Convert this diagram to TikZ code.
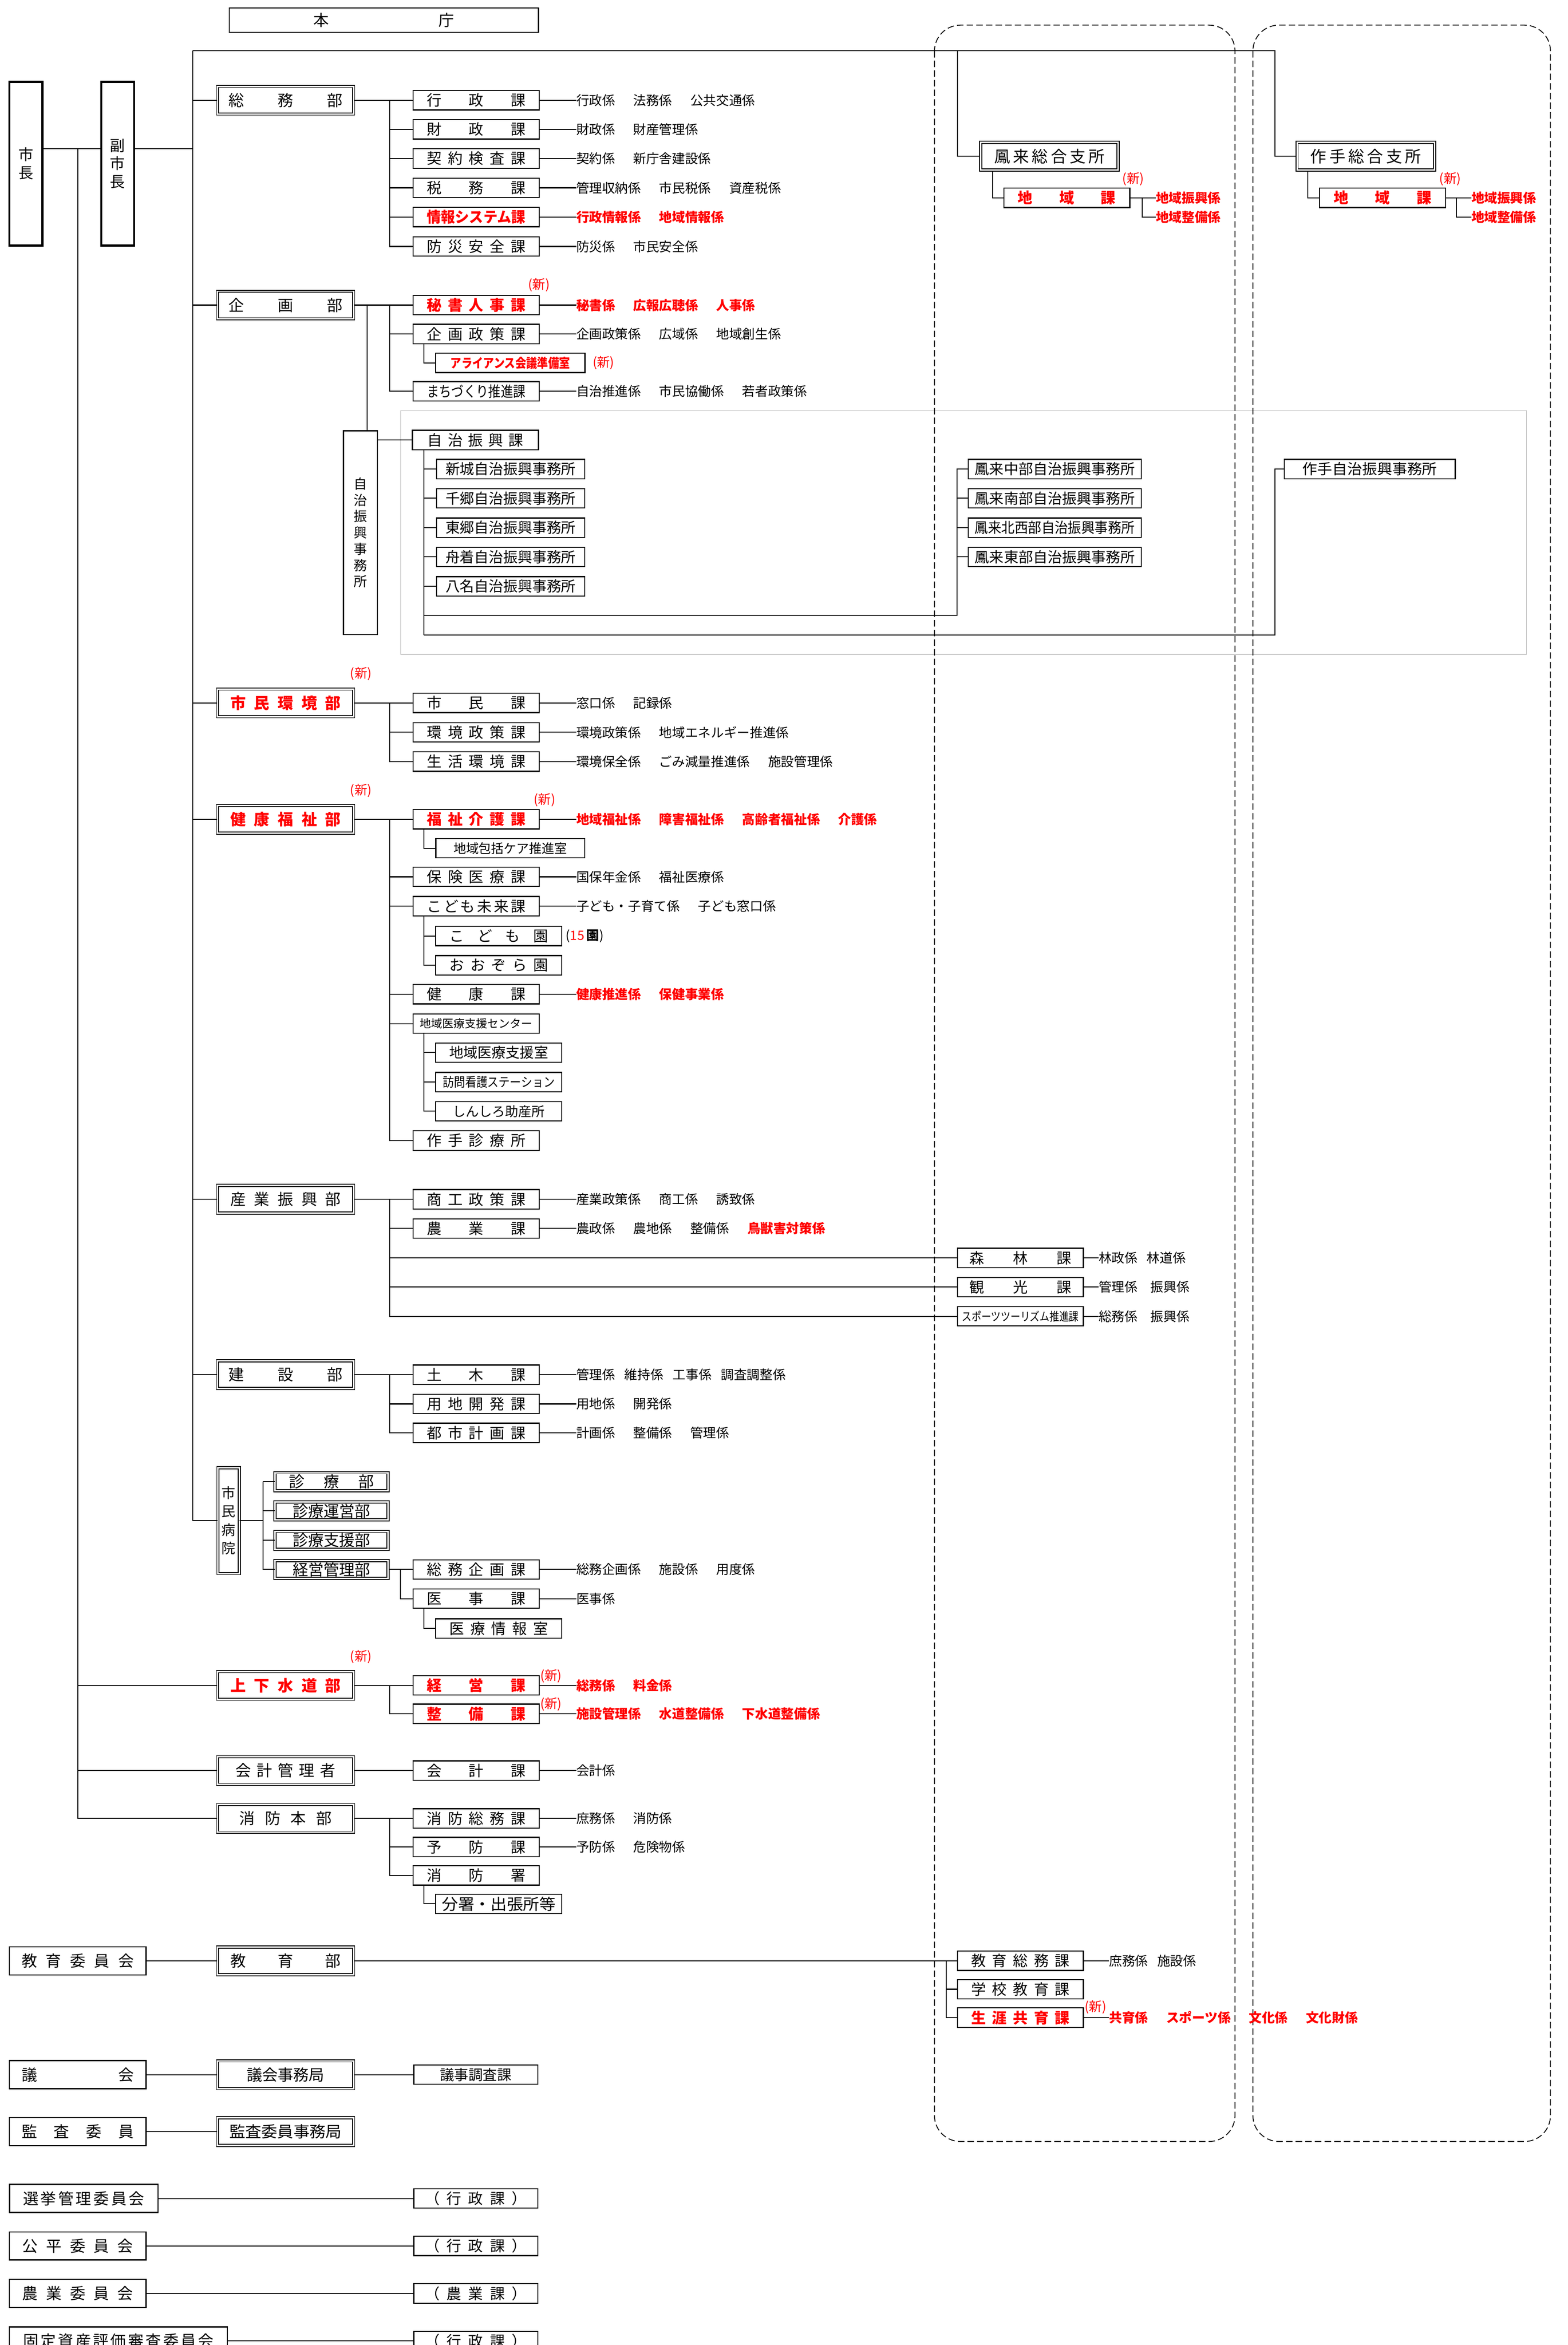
\documentclass[tikz,border=0pt]{standalone}
\usepackage{fontspec}
\setmainfont{Noto Sans CJK JP}
\usepackage{graphicx}

\newdimen\dpx \dpx=0.04904cm
\newcommand\bufont{\fontsize{14.5}{17}\selectfont}
\newcommand\kafont{\fontsize{13.8}{16}\selectfont}
\newcommand\kkfont{\fontsize{12.1}{14}\selectfont}
\newcommand\shinfont{\fontsize{12}{14}\selectfont}
\newcommand\chieffont{\fontsize{14}{17}\selectfont}
\newcommand\tatefont{\fontsize{12.5}{15.2}\selectfont}
\newcommand\hospfont{\fontsize{13}{17.2}\selectfont}
\newcommand\kg{\hspace{1.4em}}
\newcommand\kgm{\hspace{1em}}
\newcommand\kgs{\hspace{.72em}}
% spread the characters of #2 over #1 px
\newcommand\sprd[2]{\makebox[#1\dpx][s]{\sprdA#2\relax}}
\def\sprdA#1{#1\futurelet\sprdN\sprdB}
\def\sprdB{\ifx\sprdN\relax\else\hfill\expandafter\sprdA\fi}
% squeeze #2 to #1 px
\newcommand\cz[2]{\resizebox{#1\dpx}{\height}{#2}}

\tikzset{
    every node/.style={inner sep=0pt},
    conn/.style={draw, line width=.9pt},
    chief/.style={
        draw,
        line width=2pt,
        minimum width=22\dpx,
        minimum height=109.5\dpx,
        align=center,
        font=\chieffont
    },
    bu/.style={
        draw,
        double,
        line width=.8pt,
        double distance=1.3pt,
        minimum width=91\dpx,
        minimum height=18.5\dpx,
        font=\bufont
    },
    ka/.style={
        draw,
        line width=1pt,
        minimum width=84.3\dpx,
        minimum height=13\dpx,
        font=\kafont
    },
    iinkai/.style={
        draw,
        line width=1pt,
        minimum width=91.3\dpx,
        minimum height=18.8\dpx,
        font=\bufont
    },
    kakari/.style={anchor=west, font=\kkfont},
    shin/.style={text=red, font=\shinfont},
    redtxt/.style={text=red, execute at begin node=\bfseries},
    shisho/.style={
        draw,
        dash pattern=on 6pt off 3pt,
        line width=.8pt,
        rounded corners=.85cm
    },
}

\begin{document}
\begin{tikzpicture}[x=0.04904cm, y=-0.04904cm]
\useasboundingbox (0,0) rectangle (1048.7,1568.1);
\clip (0,0) rectangle (1048.7,1568.1);

% frames
\draw[gray!55, line width=.5pt] (268,274.7) rectangle (1021,437.5);
\path[shisho] (625,16.8) rectangle (826,1432);
\path[shisho] (838,16.8) rectangle (1037,1432);

% columns
\coordinate (kx) at (260.6,0);
\coordinate (sx) at (283.6,0);
\coordinate (hx) at (640,0);
\coordinate (tx) at (852.8,0);

% head
\node[ka, minimum width=206.8\dpx, minimum height=16.3\dpx, font=\bufont] (honcho) at (256.8,13.5) {\sprd{94}{本庁}};
\node[chief] (mayor) at (17.3,109.5) {市\\長};
\node[chief] (vice) at (78.7,109.5) {副\\市\\長};
\coordinate (c1) at (52,99.5);
\coordinate (c2) at (129,99.5);
\coordinate (t0) at (129,34);
\coordinate (t1) at (640.5,34);
\coordinate (t2) at (852.8,34);

% departments
\node[bu] (somubu) at (191,67) {\sprd{76}{総務部}};
\node[bu] (kikakubu) at (191,204) {\sprd{76}{企画部}};
\node[bu, redtxt] (shiminbu) at (191,470) {\sprd{74}{市民環境部}};
\node[bu, redtxt] (kenkobu) at (191,547.8) {\sprd{74}{健康福祉部}};
\node[bu] (sangyobu) at (191,802) {\sprd{74}{産業振興部}};
\node[bu] (kensetsubu) at (191,919.3) {\sprd{76}{建設部}};
\node[bu, redtxt] (suidobu) at (191,1127) {\sprd{74}{上下水道部}};
\node[bu] (kaikeibu) at (191,1184) {\sprd{67}{会計管理者}};
\node[bu] (shobobu) at (191,1216) {\sprd{62}{消防本部}};
\node[bu] (kyoikubu) at (191,1311.2) {\sprd{74}{教育部}};
\node[bu] (gikaibu) at (191,1387.3) {議会事務局};
\node[bu] (kansabu) at (191,1425.3) {\cz{75}{監査委員事務局}};
\node[shin] at (241.4,450.6) {(新)};
\node[shin] at (241.4,528.6) {(新)};
\node[shin] at (241.4,1108) {(新)};

% branch offices
\node[bu, minimum width=92\dpx, font=\fontsize{15}{18}\selectfont] (hourai) at (701.9,104.5) {\sprd{74}{鳳来総合支所}};
\node[bu, minimum width=92\dpx, font=\fontsize{15}{18}\selectfont] (sakute) at (913.5,104.5) {\sprd{74}{作手総合支所}};
\node[ka, redtxt] (hchiiki) at (713.5,132.3) {\sprd{65.5}{地域課}};
\node[ka, redtxt] (schiiki) at (924.7,132.3) {\sprd{65.5}{地域課}};
\node[shin] at (758,119.6) {(新)};
\node[shin] at (970,119.6) {(新)};
\node[kakari, redtxt] (hk1) at (773,132.3) {地域振興係};
\node[kakari, redtxt] (hk2) at (773,145.3) {地域整備係};
\node[kakari, redtxt] (sk1) at (984,132.3) {地域振興係};
\node[kakari, redtxt] (sk2) at (984,145.3) {地域整備係};

% mayor lines
\path[conn] (mayor.east |- c1) -- (vice.west |- c1);
\path[conn] (vice.east |- c2) -- (c2);
\path[conn] (c1) |- (shobobu.west);
\path[conn] (c1 |- suidobu.west) -- (suidobu.west);
\path[conn] (c1 |- kaikeibu.west) -- (kaikeibu.west);
\path[conn] (t0) -- (t2) |- (sakute.west);
\path[conn] (t1) |- (hourai.west);
\path[conn] (t0 |- somubu.west) -- (somubu.west);
\path[conn] (t0 |- kikakubu.west) -- (kikakubu.west);
\path[conn] (t0 |- shiminbu.west) -- (shiminbu.west);
\path[conn] (t0 |- kenkobu.west) -- (kenkobu.west);
\path[conn] (t0 |- sangyobu.west) -- (sangyobu.west);
\path[conn] (t0 |- kensetsubu.west) -- (kensetsubu.west);
\path[conn] ([xshift=8.4\dpx]hourai.south west) |- (hchiiki.west);
\path[conn] ([xshift=7.6\dpx]sakute.south west) |- (schiiki.west);
\path[conn] (hchiiki.east) -- (hk1.west);
\path[conn] ([xshift=8\dpx]hchiiki.east) |- (hk2.west);
\path[conn] (schiiki.east) -- (sk1.west);
\path[conn] ([xshift=7\dpx]schiiki.east) |- (sk2.west);

% 総務部
\node[ka] (gyosei) at (318.5,67) {\sprd{66}{行政課}};
\node[ka] (zaisei) at (318.5,86.5) {\sprd{66}{財政課}};
\node[ka] (keiyaku) at (318.5,106) {\sprd{66}{契約検査課}};
\node[ka] (zeimu) at (318.5,125.6) {\sprd{66}{税務課}};
\node[ka, redtxt] (joho) at (318.5,145.1) {\cz{66}{情報システム課}};
\node[ka] (bosai) at (318.5,164.8) {\sprd{66}{防災安全課}};
\node[kakari] (gyoseik) at (385.3,67) {行政係\kg 法務係\kg 公共交通係};
\node[kakari] (zaiseik) at (385.3,86.5) {財政係\kg 財産管理係};
\node[kakari] (keiyakuk) at (385.3,106) {契約係\kg 新庁舎建設係};
\node[kakari] (zeimuk) at (385.3,125.6) {管理収納係\kg 市民税係\kg 資産税係};
\node[kakari, redtxt] (johok) at (385.3,145.1) {行政情報係\kg 地域情報係};
\node[kakari] (bosaik) at (385.3,164.8) {防災係\kg 市民安全係};
\path[conn] (somubu.east) -- (gyosei.west);
\path[conn] (kx |- gyosei.west) |- (bosai.west);
\path[conn] (kx |- zaisei.west) -- (zaisei.west);
\path[conn] (kx |- keiyaku.west) -- (keiyaku.west);
\path[conn] (kx |- zeimu.west) -- (zeimu.west);
\path[conn] (kx |- joho.west) -- (joho.west);
\path[conn] (gyosei.east) -- (gyoseik.west);
\path[conn] (zaisei.east) -- (zaiseik.west);
\path[conn] (keiyaku.east) -- (keiyakuk.west);
\path[conn] (zeimu.east) -- (zeimuk.west);
\path[conn] (joho.east) -- (johok.west);
\path[conn] (bosai.east) -- (bosaik.west);

% 企画部
\node[ka, redtxt] (hisho) at (318.5,204) {\sprd{66}{秘書人事課}};
\node[ka] (kikaku) at (318.5,223.4) {\sprd{66}{企画政策課}};
\node[ka, redtxt, minimum width=99.8\dpx, font=\fontsize{12}{14}\selectfont] (alliance) at (341.3,242.7) {\cz{80}{アライアンス会議準備室}};
\node[ka] (machi) at (318.5,261.6) {\cz{66}{まちづくり推進課}};
\node[shin] at (360.5,190.6) {(新)};
\node[shin] at (403.7,242.7) {(新)};
\node[kakari, redtxt] (hishok) at (385.3,204) {秘書係\kg 広報広聴係\kg 人事係};
\node[kakari] (kikakuk) at (385.3,223.4) {企画政策係\kg 広域係\kg 地域創生係};
\node[kakari] (machik) at (385.3,261.6) {自治推進係\kg 市民協働係\kg 若者政策係};
\path[conn] (kikakubu.east) -- (hisho.west);
\path[conn] (kx |- hisho.west) |- (machi.west);
\path[conn] (kx |- kikaku.west) -- (kikaku.west);
\path[conn] (kikaku.south -| sx) |- (alliance.west);
\path[conn] (hisho.east) -- (hishok.west);
\path[conn] (kikaku.east) -- (kikakuk.west);
\path[conn] (machi.east) -- (machik.west);

% 自治振興
\node[draw, line width=1pt, minimum width=22.7\dpx, minimum height=136.3\dpx, align=center, font=\tatefont] (jimusho) at (241.1,356.2) {自\\治\\振\\興\\事\\務\\所};
\node[ka] (jichi) at (318,294.2) {\sprd{64}{自治振興課}};
\node[ka, minimum width=99\dpx, font=\fontsize{13.5}{16}\selectfont] (shinshiro) at (341.5,313.7) {新城自治振興事務所};
\node[ka, minimum width=99\dpx, font=\fontsize{13.5}{16}\selectfont] (chisato) at (341.5,333.2) {千郷自治振興事務所};
\node[ka, minimum width=99\dpx, font=\fontsize{13.5}{16}\selectfont] (togo) at (341.5,352.9) {東郷自治振興事務所};
\node[ka, minimum width=99\dpx, font=\fontsize{13.5}{16}\selectfont] (funatsuke) at (341.5,372.4) {舟着自治振興事務所};
\node[ka, minimum width=99\dpx, font=\fontsize{13.5}{16}\selectfont] (yana) at (341.5,392.1) {八名自治振興事務所};
\node[ka, minimum width=115.6\dpx, font=\fontsize{13.5}{16}\selectfont] (hchubu) at (705.5,313.7) {\cz{107}{鳳来中部自治振興事務所}};
\node[ka, minimum width=115.6\dpx, font=\fontsize{13.5}{16}\selectfont] (hnanbu) at (705.5,333.2) {\cz{107}{鳳来南部自治振興事務所}};
\node[ka, minimum width=115.6\dpx, font=\fontsize{13.5}{16}\selectfont] (hhokusei) at (705.5,352.9) {\cz{107}{鳳来北西部自治振興事務所}};
\node[ka, minimum width=115.6\dpx, font=\fontsize{13.5}{16}\selectfont] (htobu) at (705.5,372.4) {\cz{107}{鳳来東部自治振興事務所}};
\node[ka, minimum width=114.3\dpx, font=\fontsize{13.5}{16}\selectfont] (sjichi) at (916.2,313.7) {\cz{90}{作手自治振興事務所}};
\coordinate (jx) at (245.5,204);
\coordinate (j1) at (283.6,411.4);
\coordinate (j2) at (283.6,424.5);
\path[conn] (jx) -- (jx |- jimusho.north);
\path[conn] (jimusho.east |- jichi.west) -- (jichi.west);
\path[conn] (jichi.south -| sx) -- (j2);
\path[conn] (sx |- shinshiro.west) -- (shinshiro.west);
\path[conn] (sx |- chisato.west) -- (chisato.west);
\path[conn] (sx |- togo.west) -- (togo.west);
\path[conn] (sx |- funatsuke.west) -- (funatsuke.west);
\path[conn] (sx |- yana.west) -- (yana.west);
\path[conn] (j1) -| (hx |- hchubu.west) -- (hchubu.west);
\path[conn] (hx |- hnanbu.west) -- (hnanbu.west);
\path[conn] (hx |- hhokusei.west) -- (hhokusei.west);
\path[conn] (hx |- htobu.west) -- (htobu.west);
\path[conn] (j2) -| (tx |- sjichi.west) -- (sjichi.west);

% 市民環境部
\node[ka] (shimin) at (318.5,470) {\sprd{66}{市民課}};
\node[ka] (kankyo) at (318.5,489.7) {\sprd{66}{環境政策課}};
\node[ka] (seikatsu) at (318.5,509.2) {\sprd{66}{生活環境課}};
\node[kakari] (shimink) at (385.3,470) {窓口係\kg 記録係};
\node[kakari] (kankyok) at (385.3,489.7) {環境政策係\kg 地域エネルギー推進係};
\node[kakari] (seikatsuk) at (385.3,509.2) {環境保全係\kg ごみ減量推進係\kg 施設管理係};
\path[conn] (shiminbu.east) -- (shimin.west);
\path[conn] (kx |- shimin.west) |- (seikatsu.west);
\path[conn] (kx |- kankyo.west) -- (kankyo.west);
\path[conn] (shimin.east) -- (shimink.west);
\path[conn] (kankyo.east) -- (kankyok.west);
\path[conn] (seikatsu.east) -- (seikatsuk.west);

% 健康福祉部
\node[ka, redtxt] (fukushi) at (318.5,547.8) {\sprd{66}{福祉介護課}};
\node[ka, minimum width=99.6\dpx, font=\fontsize{12}{14}\selectfont] (houkatsu) at (341.3,567.2) {\cz{76}{地域包括ケア推進室}};
\node[ka] (hoken) at (318.5,586.3) {\sprd{66}{保険医療課}};
\node[ka] (kodomo) at (318.5,606) {\sprd{66}{こども未来課}};
\node[ka] (kodomoen) at (333.6,625.9) {\sprd{66}{こども園}};
\node[ka] (oozora) at (333.6,645.5) {\sprd{66}{おおぞら園}};
\node[ka] (kenko) at (318.5,664.8) {\sprd{66}{健康課}};
\node[ka, font=\fontsize{10.5}{12}\selectfont] (iryoc) at (318.5,684.5) {地域医療支援センター};
\node[ka, font=\fontsize{13.2}{16}\selectfont] (iryoshitsu) at (333.6,703.9) {地域医療支援室};
\node[ka, font=\fontsize{12}{14}\selectfont] (houmon) at (333.6,723.6) {\cz{75}{訪問看護ステーション}};
\node[ka, font=\fontsize{12.3}{14}\selectfont] (josan) at (333.6,743.1) {しんしろ助産所};
\node[ka] (tsukude) at (318.5,762.7) {\sprd{66}{作手診療所}};
\node[shin] at (364.3,535) {(新)};
\node[anchor=west, font=\shinfont] (enkazu) at (378.3,625.9) {(\textcolor{red}{15}\,\textbf{園})};
\node[kakari, redtxt] (fukushik) at (385.3,547.8) {地域福祉係\kg 障害福祉係\kg 高齢者福祉係\kg 介護係};
\node[kakari] (hokenk) at (385.3,586.3) {国保年金係\kg 福祉医療係};
\node[kakari] (kodomok) at (385.3,606) {子ども・子育て係\kg 子ども窓口係};
\node[kakari, redtxt] (kenkok) at (385.3,664.8) {健康推進係\kg 保健事業係};
\path[conn] (kenkobu.east) -- (fukushi.west);
\path[conn] (kx |- fukushi.west) |- (tsukude.west);
\path[conn] (kx |- hoken.west) -- (hoken.west);
\path[conn] (kx |- kodomo.west) -- (kodomo.west);
\path[conn] (kx |- kenko.west) -- (kenko.west);
\path[conn] (kx |- iryoc.west) -- (iryoc.west);
\path[conn] (fukushi.south -| sx) |- (houkatsu.west);
\path[conn] (kodomo.south -| sx) |- (oozora.west);
\path[conn] (sx |- kodomoen.west) -- (kodomoen.west);
\path[conn] (iryoc.south -| sx) |- (josan.west);
\path[conn] (sx |- iryoshitsu.west) -- (iryoshitsu.west);
\path[conn] (sx |- houmon.west) -- (houmon.west);
\path[conn] (fukushi.east) -- (fukushik.west);
\path[conn] (hoken.east) -- (hokenk.west);
\path[conn] (kodomo.east) -- (kodomok.west);
\path[conn] (kenko.east) -- (kenkok.west);

% 産業振興部
\node[ka] (shoko) at (318.5,802) {\sprd{66}{商工政策課}};
\node[ka] (nogyo) at (318.5,821.5) {\sprd{66}{農業課}};
\node[ka] (shinrin) at (682.5,841.2) {\sprd{68}{森林課}};
\node[ka] (kanko) at (682.5,860.7) {\sprd{68}{観光課}};
\node[ka, font=\fontsize{11}{13}\selectfont] (sports) at (682.5,880.2) {\cz{78}{スポーツツーリズム推進課}};
\node[kakari] (shokok) at (385.3,802) {産業政策係\kg 商工係\kg 誘致係};
\node[kakari] (nogyok) at (385.3,821.5) {農政係\kg 農地係\kg 整備係\kg \textcolor{red}{\bfseries 鳥獣害対策係}};
\node[kakari] (shinrink) at (734.7,841.2) {林政係\kgs 林道係};
\node[kakari] (kankok) at (734.7,860.7) {管理係\kgm 振興係};
\node[kakari] (sportsk) at (734.7,880.2) {総務係\kgm 振興係};
\path[conn] (sangyobu.east) -- (shoko.west);
\path[conn] (kx |- shoko.west) |- (sports.west);
\path[conn] (kx |- nogyo.west) -- (nogyo.west);
\path[conn] (kx |- shinrin.west) -- (shinrin.west);
\path[conn] (kx |- kanko.west) -- (kanko.west);
\path[conn] (shoko.east) -- (shokok.west);
\path[conn] (nogyo.east) -- (nogyok.west);
\path[conn] (shinrin.east) -- (shinrink.west);
\path[conn] (kanko.east) -- (kankok.west);
\path[conn] (sports.east) -- (sportsk.west);

% 建設部
\node[ka] (doboku) at (318.5,919.3) {\sprd{66}{土木課}};
\node[ka] (yochi) at (318.5,938.8) {\sprd{66}{用地開発課}};
\node[ka] (toshi) at (318.5,958.2) {\sprd{66}{都市計画課}};
\node[kakari] (dobokuk) at (385.3,919.3) {管理係\kgs 維持係\kgs 工事係\kgs 調査調整係};
\node[kakari] (yochik) at (385.3,938.8) {用地係\kg 開発係};
\node[kakari] (toshik) at (385.3,958.2) {計画係\kg 整備係\kg 管理係};
\path[conn] (kensetsubu.east) -- (doboku.west);
\path[conn] (kx |- doboku.west) |- (toshi.west);
\path[conn] (kx |- yochi.west) -- (yochi.west);
\path[conn] (doboku.east) -- (dobokuk.west);
\path[conn] (yochi.east) -- (yochik.west);
\path[conn] (toshi.east) -- (toshik.west);

% 市民病院
\node[bu, minimum width=14.3\dpx, minimum height=70.8\dpx, align=center, font=\hospfont] (hosp) at (152.95,1016.8) {市\\民\\病\\院};
\node[bu, minimum width=75.6\dpx, minimum height=12\dpx] (shinryo) at (221.8,990.8) {\sprd{57}{診療部}};
\node[bu, minimum width=75.6\dpx, minimum height=12\dpx] (unei) at (221.8,1010.3) {診療運営部};
\node[bu, minimum width=75.6\dpx, minimum height=12\dpx] (shien) at (221.8,1030) {診療支援部};
\node[bu, minimum width=75.6\dpx, minimum height=12\dpx] (keieibu) at (221.8,1049.5) {経営管理部};
\node[ka] (sokikaku) at (318.5,1049.5) {\sprd{66}{総務企画課}};
\node[ka] (iji) at (318.5,1069) {\sprd{66}{医事課}};
\node[ka] (iryojoho) at (333.6,1088.9) {\sprd{66}{医療情報室}};
\node[kakari] (sokikakuk) at (385.3,1049.5) {総務企画係\kg 施設係\kg 用度係};
\node[kakari] (ijik) at (385.3,1069) {医事係};
\coordinate (bx) at (175.9,0);
\coordinate (ex) at (267.7,0);
\path[conn] (t0) |- (hosp.west);
\path[conn] (hosp.east) -- (bx |- hosp.east);
\path[conn] (bx |- shinryo.west) |- (keieibu.west);
\path[conn] (bx |- shinryo.west) -- (shinryo.west);
\path[conn] (bx |- unei.west) -- (unei.west);
\path[conn] (bx |- shien.west) -- (shien.west);
\path[conn] (keieibu.east) -- (sokikaku.west);
\path[conn] (ex |- sokikaku.west) |- (iji.west);
\path[conn] (iji.south -| sx) |- (iryojoho.west);
\path[conn] (sokikaku.east) -- (sokikakuk.west);
\path[conn] (iji.east) -- (ijik.west);

% 上下水道部
\node[ka, redtxt] (keiei) at (318.5,1127) {\sprd{66}{経営課}};
\node[ka, redtxt] (seibi) at (318.5,1146) {\sprd{66}{整備課}};
\node[shin] at (368.5,1120.8) {(新)};
\node[shin] at (368.5,1139.5) {(新)};
\node[kakari, redtxt] (keieik) at (385.3,1127) {総務係\kg 料金係};
\node[kakari, redtxt] (seibik) at (385.3,1146) {施設管理係\kg 水道整備係\kg 下水道整備係};
\path[conn] (suidobu.east) -- (keiei.west);
\path[conn] (kx |- keiei.west) |- (seibi.west);
\path[conn] (keiei.east) -- (keieik.west);
\path[conn] (seibi.east) -- (seibik.west);

% 会計管理者
\node[ka] (kaikei) at (318.5,1184) {\sprd{66}{会計課}};
\node[kakari] (kaikeik) at (385.3,1184) {会計係};
\path[conn] (kaikeibu.east) -- (kaikei.west);
\path[conn] (kaikei.east) -- (kaikeik.west);

% 消防本部
\node[ka] (shomu) at (318.5,1216) {\sprd{66}{消防総務課}};
\node[ka] (yobo) at (318.5,1235.1) {\sprd{66}{予防課}};
\node[ka] (shobosho) at (318.5,1254.1) {\sprd{66}{消防署}};
\node[ka, font=\fontsize{14.5}{17}\selectfont] (bunsho) at (333.6,1273.1) {\cz{76}{分署・出張所等}};
\node[kakari] (shomuk) at (385.3,1216) {庶務係\kg 消防係};
\node[kakari] (yobok) at (385.3,1235.1) {予防係\kg 危険物係};
\path[conn] (shobobu.east) -- (shomu.west);
\path[conn] (kx |- shomu.west) |- (shobosho.west);
\path[conn] (kx |- yobo.west) -- (yobo.west);
\path[conn] (shobosho.south -| sx) |- (bunsho.west);
\path[conn] (shomu.east) -- (shomuk.west);
\path[conn] (yobo.east) -- (yobok.west);

% 教育
\node[iinkai] (kyoikui) at (52,1311.2) {\sprd{75}{教育委員会}};
\node[ka] (kyosomu) at (682.5,1311.2) {\sprd{66}{教育総務課}};
\node[ka] (gakko) at (682.5,1330.2) {\sprd{66}{学校教育課}};
\node[ka, redtxt] (shogai) at (682.5,1349.2) {\sprd{66}{生涯共育課}};
\node[shin] at (732.8,1342.2) {(新)};
\node[kakari] (kyosomuk) at (741.7,1311.2) {庶務係\kgs 施設係};
\node[kakari, redtxt] (shogaik) at (741.7,1349.2) {共育係\kg スポーツ係\kg 文化係\kg 文化財係};
\coordinate (kx2) at (633,0);
\path[conn] (kyoikui.east) -- (kyoikubu.west);
\path[conn] (kyoikubu.east) -- (kyosomu.west);
\path[conn] (kx2 |- kyosomu.west) |- (shogai.west);
\path[conn] (kx2 |- gakko.west) -- (gakko.west);
\path[conn] (kyosomu.east) -- (kyosomuk.west);
\path[conn] (shogai.east) -- (shogaik.west);

% 議会, 監査, 委員会
\node[iinkai] (gikai) at (52,1387.3) {\sprd{75}{議会}};
\node[ka, minimum width=82.9\dpx, font=\fontsize{13.4}{16}\selectfont] (chosa) at (318.2,1387.3) {議事調査課};
\node[iinkai] (kansa) at (52,1425.3) {\sprd{75}{監査委員}};
\node[iinkai, minimum width=99.2\dpx] (senkyo) at (56,1470.1) {\sprd{81}{選挙管理委員会}};
\node[iinkai] (kohei) at (52,1501.8) {\sprd{74}{公平委員会}};
\node[iinkai] (nogyoi) at (52,1533.6) {\sprd{74}{農業委員会}};
\node[iinkai, minimum width=145.8\dpx] (kotei) at (79.2,1565.4) {\sprd{127.6}{固定資産評価審査委員会}};
\node[ka, minimum width=82.9\dpx] (gyosei2) at (318.2,1470.1) {\sprd{68}{（行政課）}};
\node[ka, minimum width=82.9\dpx] (gyosei3) at (318.2,1501.8) {\sprd{68}{（行政課）}};
\node[ka, minimum width=82.9\dpx] (nogyo2) at (318.2,1533.6) {\sprd{68}{（農業課）}};
\node[ka, minimum width=82.9\dpx] (gyosei4) at (318.2,1565.4) {\sprd{68}{（行政課）}};
\path[conn] (gikai.east) -- (gikaibu.west);
\path[conn] (gikaibu.east) -- (chosa.west);
\path[conn] (kansa.east) -- (kansabu.west);
\path[conn] (senkyo.east) -- (gyosei2.west);
\path[conn] (kohei.east) -- (gyosei3.west);
\path[conn] (nogyoi.east) -- (nogyo2.west);
\path[conn] (kotei.east) -- (gyosei4.west);

\end{tikzpicture}
\end{document}
